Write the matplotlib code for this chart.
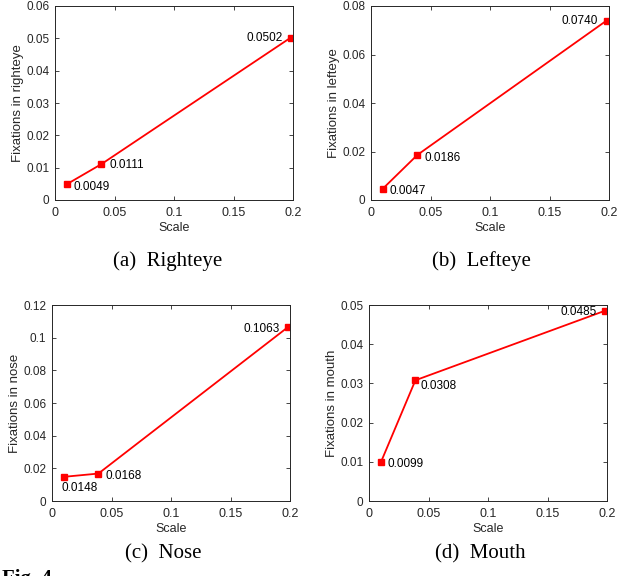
import matplotlib
matplotlib.use("Agg")
import matplotlib.pyplot as plt
from matplotlib.ticker import FuncFormatter

# data
scale = [0.01, 0.039, 0.198]
righteye = [0.0049, 0.0111, 0.0502]
lefteye = [0.0047, 0.0186, 0.0740]
nose = [0.0148, 0.0168, 0.1063]
mouth = [0.0099, 0.0308, 0.0485]

ylabels = ["Fixations in righteye", "Fixations in lefteye", "Fixations in nose", "Fixations in mouth"]
captions = ["(a)  Righteye", "(b)  Lefteye", "(c)  Nose", "(d)  Mouth"]
ylims = [0.06, 0.08, 0.12, 0.05]
ysteps = [0.01, 0.02, 0.02, 0.01]

plt.rcParams["font.family"] = ["Liberation Sans", "DejaVu Sans"]
dark = "#262626"

W, H = 639, 576
fig = plt.figure(figsize=(W / 100, H / 100), dpi=100)

# axes boxes in pixels: left, top, right, bottom
boxes = [(55, 6, 293, 200), (371, 6, 609, 200), (52, 305, 290, 501), (369, 305, 607, 501)]
cap_pos = [(168, 261), (481, 261), (163, 554), (480, 554)]
series = [righteye, lefteye, nose, mouth]

# label offsets (points) for each annotation: (dx, dy, ha)
offsets = [
    [(5, -2, "left"), (5.5, -1, "left"), (-6, 0, "right")],
    [(5, -2, "left"), (5, -2, "left"), (-6, 0, "right")],
    [(-2, -8, "left"), (5, -2, "left"), (-6, -1, "right")],
    [(5, -1, "left"), (3.5, -4, "left"), (-6, -1, "right")],
]

fmt = FuncFormatter(lambda v, p: "%g" % round(v, 4))

for i, vals in enumerate(series):
    l, t, r, b = boxes[i]
    ax = fig.add_axes([l / W, 1 - b / H, (r - l) / W, (b - t) / H])
    ax.plot(scale, vals, color="red", lw=1.3, marker="s", ms=5)
    for x, y, (dx, dy, ha) in zip(scale, vals, offsets[i]):
        ax.annotate("%.4f" % y, (x, y), xytext=(dx, dy), textcoords="offset points",
                    ha=ha, va="center", fontsize=8.5, color="black")
    ax.set_xlim(0, 0.2)
    ax.set_ylim(0, ylims[i])
    ax.set_xticks([0, 0.05, 0.1, 0.15, 0.2])
    n = int(round(ylims[i] / ysteps[i]))
    ax.set_yticks([k * ysteps[i] for k in range(n + 1)])
    ax.xaxis.set_major_formatter(fmt)
    ax.yaxis.set_major_formatter(fmt)
    ax.tick_params(direction="in", top=True, right=True, length=3, width=0.6,
                   colors=dark)
    ax.tick_params(axis="x", labelsize=9, pad=5)
    ax.tick_params(axis="y", labelsize=8.5, pad=4)
    for s in ax.spines.values():
        s.set_color(dark)
        s.set_linewidth(0.7)
    ax.set_xlabel("Scale", fontsize=9, color=dark, labelpad=2)
    ax.set_ylabel(ylabels[i], fontsize=9.5, color=dark, labelpad=2)

    cx, cy = cap_pos[i]
    fig.text(cx / W, 1 - cy / H, captions[i], ha="center", va="center",
             fontsize=15, family="Liberation Serif")

fig.text(2 / W, 1 - 569 / H, "Fig. 4", ha="left", va="top", fontsize=15,
         fontweight="bold", family="Liberation Serif")

fig.savefig("out.png", dpi=100)
